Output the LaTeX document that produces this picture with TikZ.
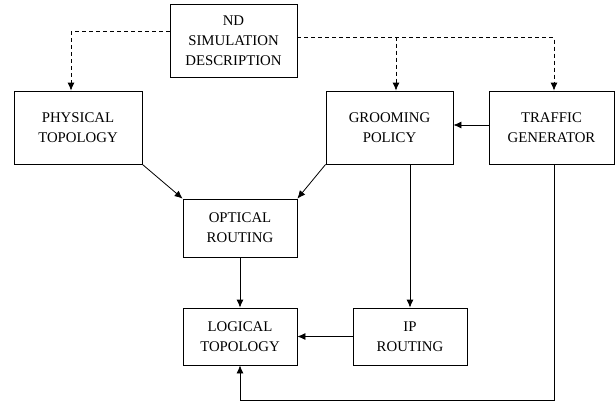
\documentclass[tikz,border=0pt]{standalone}
\usepackage{fontspec}
\setmainfont{Liberation Serif}
\usetikzlibrary{arrows.meta}
\tikzset{
  blk/.style={draw, rectangle, align=center, inner sep=0pt, line width=0.8pt},
  dsh/.style={dashed, dash pattern=on 4pt off 3pt},
}

\begin{document}
\begin{tikzpicture}[x=1pt,y=-1pt,line width=0.8pt,>={Latex[length=8pt,width=7pt]}]
      \useasboundingbox (0,0) rectangle (616,402);
      \fontsize{14.8}{20}\selectfont
      \node[blk,minimum width=127,minimum height=73] (nd) at (233.5,40.5) {ND\\SIMULATION\\DESCRIPTION};
      \node[blk,minimum width=128,minimum height=73] (phys) at (78,127.5) {PHYSICAL\\TOPOLOGY};
      \node[blk,minimum width=127,minimum height=73] (groom) at (389.5,127.5) {GROOMING\\POLICY};
      \node[blk,minimum width=125,minimum height=73] (traffic) at (551.5,127.5) {TRAFFIC\\GENERATOR};
      \node[blk,minimum width=114,minimum height=58] (optical) at (240,228) {OPTICAL\\ROUTING};
      \node[blk,minimum width=114,minimum height=57] (logical) at (240,336.5) {LOGICAL\\TOPOLOGY};
      \node[blk,minimum width=114,minimum height=57] (ip) at (410,336.5) {IP\\ROUTING};
      % description feeds the three inputs
      \draw[dsh,->] ([yshift=8.8pt]nd.west) -| ([xshift=-7pt]phys.north);
      \draw[dsh,->] ([yshift=3.2pt]nd.east) -| ([xshift=6.5pt]groom.north);
      \draw[dsh,->] ([yshift=3.2pt]nd.east) -| ([xshift=2.5pt]traffic.north);
      \draw[->] ([yshift=2.5pt]traffic.west) -- ([yshift=2.5pt]groom.east);
      \draw[->] (phys.south east) -- (optical.north west);
      \draw[->] (groom.south west) -- (optical.north east);
      \draw[->] (optical.south) -- (logical.north);
      \draw[->] (ip.north |- groom.south) -- (ip.north);
      \draw[->] (ip.west) -- (logical.east);
      \draw[->] ([xshift=2.5pt]traffic.south) -- ++(0,236) -| (logical.south);
\end{tikzpicture}
\end{document}
